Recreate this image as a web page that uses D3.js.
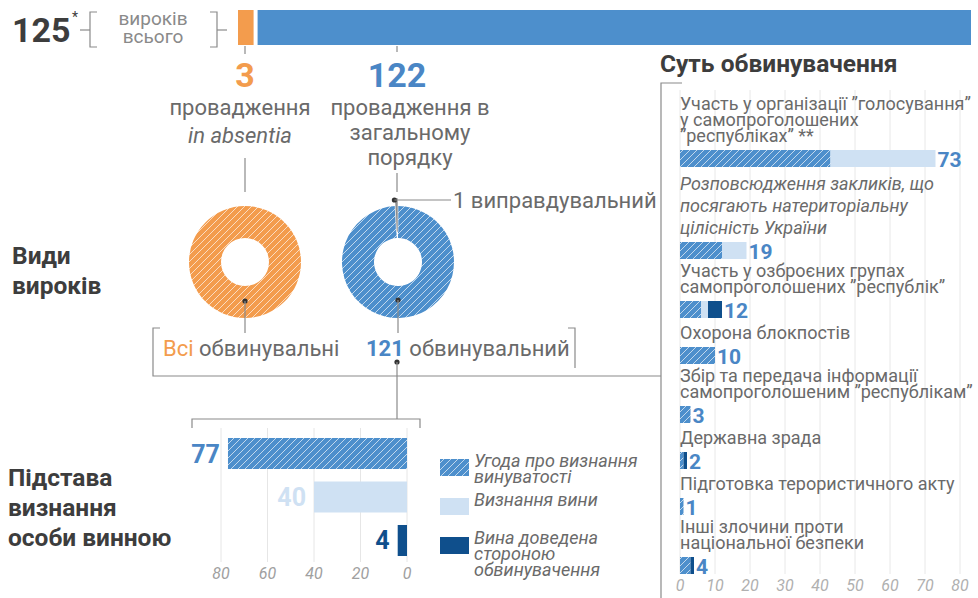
<!DOCTYPE html>
<html>
<head>
<meta charset="utf-8">
<script src="https://cdn.jsdelivr.net/npm/d3@7"></script>
<style>
body { margin: 0; background: #fff; }
text { font-family: Roboto, "Noto Sans", sans-serif; }
</style>
</head>
<body>
<script>
// ---- data ----
const totalVerdicts = 125;
const procCounts = [3, 122];              // in absentia, general procedure
const procLabels = [["провадження", "in absentia"], ["провадження в", "загальному", "порядку"]];
const absentiaVerdicts = [3];             // all guilty
const regularVerdicts = [121, 1];         // guilty, acquittal

const groundNames = [["Угода про визнання", "винуватості"], ["Визнання вини"], ["Вина доведена", "стороною", "обвинувачення"]];
const groundValues = [77, 40, 4];
const groundTicks = [0, 20, 40, 60, 80];

const chargeNames = [
  ["Участь у організації ”голосування”", "у самопроголошених", "”республіках” **"],
  ["Розповсюдження закликів, що", "посягають натериторіальну", "цілісність України"],
  ["Участь у озброєних групах", "самопроголошених ”республік”"],
  ["Охорона блокпостів"],
  ["Збір та передача інформації", "самопроголошеним ”республікам”"],
  ["Державна зрада"],
  ["Підготовка терористичного акту"],
  ["Інші злочини проти", "національної безпеки"]
];
const chargeItalic = [false, true, false, false, false, false, false, false];
const chargePlea   = [43, 12, 6, 10, 3, 1, 1, 3];
const chargeAdmit  = [30, 7, 2, 0, 0, 0, 0, 0];
const chargeProven = [0, 0, 4, 0, 0, 1, 0, 1];
const chargeTicks = [0, 10, 20, 30, 40, 50, 60, 70, 80];

// ---- colours ----
const orange = "#f39c4d", blue = "#4d8fcc", light = "#cfe1f3", dark = "#0f4f8c";
const grey = "#6a6a6a", ink = "#3d3d3d", lineC = "#8a8a8a", valBlue = "#4a86c5";

const width = 978, height = 598;
const svg = d3.select("body").append("svg")
  .attr("width", width).attr("height", height);

// hatch patterns
const defs = svg.append("defs");
function hatch(id, color) {
  const p = defs.append("pattern").attr("id", id)
    .attr("patternUnits", "userSpaceOnUse").attr("width", 7).attr("height", 7);
  p.append("rect").attr("width", 7).attr("height", 7).attr("fill", color);
  p.append("path").attr("d", "M0,7 L7,0 M-1,1 L1,-1 M6,8 L8,6")
    .attr("stroke", "rgba(255,255,255,0.65)").attr("stroke-width", 1);
}
hatch("hBlue", blue);
hatch("hOrange", orange);

function line(x1, y1, x2, y2) {
  svg.append("line").attr("x1", x1).attr("y1", y1).attr("x2", x2).attr("y2", y2)
    .attr("stroke", lineC).attr("stroke-width", 1.2);
}
function path(d) {
  svg.append("path").attr("d", d).attr("fill", "none")
    .attr("stroke", lineC).attr("stroke-width", 1.2);
}
function dot(x, y) {
  svg.append("circle").attr("cx", x).attr("cy", y).attr("r", 2.6).attr("fill", "#333");
}

// ---- top total bar ----
svg.append("text").attr("x", 12).attr("y", 42)
  .attr("font-size", 34).attr("font-weight", 700).attr("fill", ink)
  .text(totalVerdicts);
svg.append("text").attr("x", 72).attr("y", 22).attr("font-size", 14).attr("fill", ink).text("*");
line(80, 30, 90, 30);
path("M97,12 H90 V47 H97");
path("M210,12 H217 V47 H210");
line(217, 30, 227, 30);
svg.append("text").attr("x", 153).attr("y", 25).attr("text-anchor", "middle")
  .attr("font-size", 19).attr("fill", "#8a8a8a").text("вироків");
svg.append("text").attr("x", 153).attr("y", 43).attr("text-anchor", "middle")
  .attr("font-size", 19).attr("fill", "#8a8a8a").text("всього");

const xTop = d3.scaleLinear().domain([0, totalVerdicts]).range([238, 971]);
const topCum = [0, procCounts[0], procCounts[0] + procCounts[1]];
svg.selectAll("rect.top").data(procCounts).join("rect")
  .attr("class", "top")
  .attr("x", (d, i) => xTop(topCum[i]) + (i ? 2 : 0))
  .attr("width", (d, i) => xTop(topCum[i + 1]) - xTop(topCum[i]) - 2)
  .attr("y", 10).attr("height", 35)
  .attr("fill", (d, i) => i ? blue : orange);

// columns
const colX = [245, 397];
const labelX = [240, 410];
line(colX[0], 46, colX[0], 54);
line(colX[1], 46, colX[1], 52);
procCounts.forEach((v, i) => {
  svg.append("text").attr("x", colX[i]).attr("y", 87).attr("text-anchor", "middle")
    .attr("font-size", 34).attr("font-weight", 700).attr("fill", i ? valBlue : orange)
    .text(v);
  procLabels[i].forEach((s, k) => {
    svg.append("text").attr("x", labelX[i]).attr("y", 115 + k * 25 + (i === 0 && k === 1 ? 3 : 0))
      .attr("text-anchor", "middle").attr("font-size", 22).attr("fill", grey)
      .attr("font-style", i === 0 && k === 1 ? "italic" : "normal")
      .text(s);
  });
});
line(colX[0], 158, colX[0], 192);
line(colX[1], 173, colX[1], 192);

// ---- donuts ----
const arc = d3.arc().innerRadius(24).outerRadius(56);
const pie = d3.pie().sort(null);
const cy = 262;
svg.append("g").attr("transform", `translate(245,${cy})`)
  .selectAll("path").data(pie(absentiaVerdicts)).join("path")
  .attr("d", arc).attr("fill", "url(#hOrange)");
const blueArcs = pie(regularVerdicts);
const gB = svg.append("g").attr("transform", `translate(398,${cy})`);
gB.append("path").datum(blueArcs[0]).attr("d", arc).attr("fill", "url(#hBlue)");
const arcOut = d3.arc().innerRadius(30).outerRadius(64);
gB.append("path").datum(blueArcs[1]).attr("d", arcOut)
  .attr("fill", "#8c8c8c").attr("stroke", "#fff").attr("stroke-width", 0.6);
const tip = d3.arc().innerRadius(62).outerRadius(62).centroid(blueArcs[1]);
dot(398 + tip[0] - 2, cy + tip[1]);
line(398 + tip[0] - 2, cy + tip[1], 451, cy + tip[1]);
svg.append("text").attr("x", 453).attr("y", cy + tip[1] + 8)
  .attr("font-size", 22).attr("fill", grey).text(regularVerdicts[1] + " виправдувальний");

dot(245, 301); line(245, 301, 245, 333);
dot(398, 300); line(398, 300, 398, 333);

const t1 = svg.append("text").attr("x", 163).attr("y", 356).attr("font-size", 22);
t1.append("tspan").attr("fill", orange).text("Всі");
t1.append("tspan").attr("fill", grey).text(" обвинувальні");
const t2 = svg.append("text").attr("x", 366).attr("y", 356).attr("font-size", 22);
t2.append("tspan").attr("fill", valBlue).attr("font-weight", 700).text(regularVerdicts[0]);
t2.append("tspan").attr("fill", grey).text(" обвинувальний");

path("M160,328 H153 V376 H661");
path("M568,328 H575 V368");
dot(397, 362); line(397, 362, 397, 376);
line(397, 376, 397, 419);
path("M192,428 V419 H420 V428");

// section titles
[["Види", 264], ["вироків", 294]].forEach(([s, y]) =>
  svg.append("text").attr("x", 12).attr("y", y).attr("font-size", 24.5)
    .attr("font-weight", 700).attr("fill", ink).text(s));
[["Підстава", 486], ["визнання", 516], ["особи винною", 546]].forEach(([s, y]) =>
  svg.append("text").attr("x", 8).attr("y", y).attr("font-size", 24.5)
    .attr("font-weight", 700).attr("fill", ink).text(s));
svg.append("text").attr("x", 660).attr("y", 72).attr("font-size", 24.5)
  .attr("font-weight", 700).attr("fill", ink).text("Суть обвинувачення");

// ---- grounds chart (reversed) ----
const xL = d3.scaleLinear().domain([0, 80]).range([407, 221]);
const yL = d3.scaleBand().domain(d3.range(groundValues.length))
  .range([438, 556]).paddingInner(0.287).paddingOuter(0);
const groundFill = ["url(#hBlue)", light, dark];
const groundText = [valBlue, light, dark];
svg.append("g").selectAll("line").data(groundTicks).join("line")
  .attr("x1", d => xL(d)).attr("x2", d => xL(d))
  .attr("y1", 428).attr("y2", 562).attr("stroke", "#e6e6e6");
svg.append("g").selectAll("rect").data(groundValues).join("rect")
  .attr("x", d => xL(d)).attr("width", d => xL(0) - xL(d))
  .attr("y", (d, i) => yL(i)).attr("height", yL.bandwidth())
  .attr("fill", (d, i) => groundFill[i]);
svg.append("g").selectAll("text").data(groundValues).join("text")
  .attr("x", d => xL(d) - 8).attr("y", (d, i) => yL(i) + yL.bandwidth() / 2 + 9)
  .attr("text-anchor", "end").attr("font-size", 25).attr("font-weight", 700)
  .attr("fill", (d, i) => groundText[i]).text(d => d);
svg.append("g").selectAll("text").data(groundTicks).join("text")
  .attr("x", d => xL(d)).attr("y", 579).attr("text-anchor", "middle")
  .attr("font-size", 16).attr("font-style", "italic").attr("fill", "#a0a0a0")
  .text(d => d);

// legend
const legY = [459, 498, 537];
groundNames.forEach((lines, i) => {
  svg.append("rect").attr("x", 440).attr("y", legY[i]).attr("width", 29).attr("height", 17)
    .attr("fill", groundFill[i]);
  lines.forEach((s, k) => {
    svg.append("text").attr("x", 474).attr("y", legY[i] + 8 + (i === 2 ? -1 : 0) + k * 16)
      .attr("font-size", 18).attr("font-style", "italic").attr("fill", grey).text(s);
  });
});

// ---- charges chart ----
path("M682,83 H661 V598");
const xR = d3.scaleLinear().domain([0, 80]).range([680, 960]);
const bh = 17;
const barTop = [];
let yy = 150;
chargeNames.forEach((lines, i) => {
  if (i > 0) yy += 46 + (lines.length - 1) * (chargeItalic[i] ? 23 : 13);
  barTop.push(yy);
});
svg.append("g").selectAll("line").data(chargeTicks).join("line")
  .attr("x1", d => xR(d)).attr("x2", d => xR(d))
  .attr("y1", 90).attr("y2", 574).attr("stroke", "#e8e8e8");

chargeNames.forEach((lines, i) => {
  const lh = chargeItalic[i] ? 22 : 16;
  lines.forEach((s, k) => {
    svg.append("text").attr("x", 680)
      .attr("y", barTop[i] - 8 - (lines.length - 1 - k) * lh)
      .attr("font-size", 18).attr("fill", grey)
      .attr("font-style", chargeItalic[i] ? "italic" : "normal").text(s);
  });
});

const rows = chargePlea.map((d, i) => ({ plea: d, admit: chargeAdmit[i], proven: chargeProven[i] }));
const stack = d3.stack().keys(["plea", "admit", "proven"])(rows);
const segFill = ["url(#hBlue)", light, dark];
svg.append("g").selectAll("g").data(stack).join("g")
  .attr("fill", (d, k) => segFill[k])
  .selectAll("rect").data(d => d).join("rect")
  .attr("x", d => xR(d[0])).attr("width", d => xR(d[1]) - xR(d[0]))
  .attr("y", (d, i) => barTop[i]).attr("height", bh);
svg.append("g").selectAll("text").data(rows).join("text")
  .attr("x", d => xR(d.plea + d.admit + d.proven) + 2)
  .attr("y", (d, i) => barTop[i] + bh)
  .attr("font-size", 21).attr("font-weight", 700).attr("fill", valBlue)
  .text(d => d.plea + d.admit + d.proven);
svg.append("g").selectAll("text").data(chargeTicks).join("text")
  .attr("x", d => xR(d)).attr("y", 591).attr("text-anchor", "middle")
  .attr("font-size", 16).attr("font-style", "italic").attr("fill", "#b0b0b0")
  .text(d => d);
</script>
</body>
</html>
